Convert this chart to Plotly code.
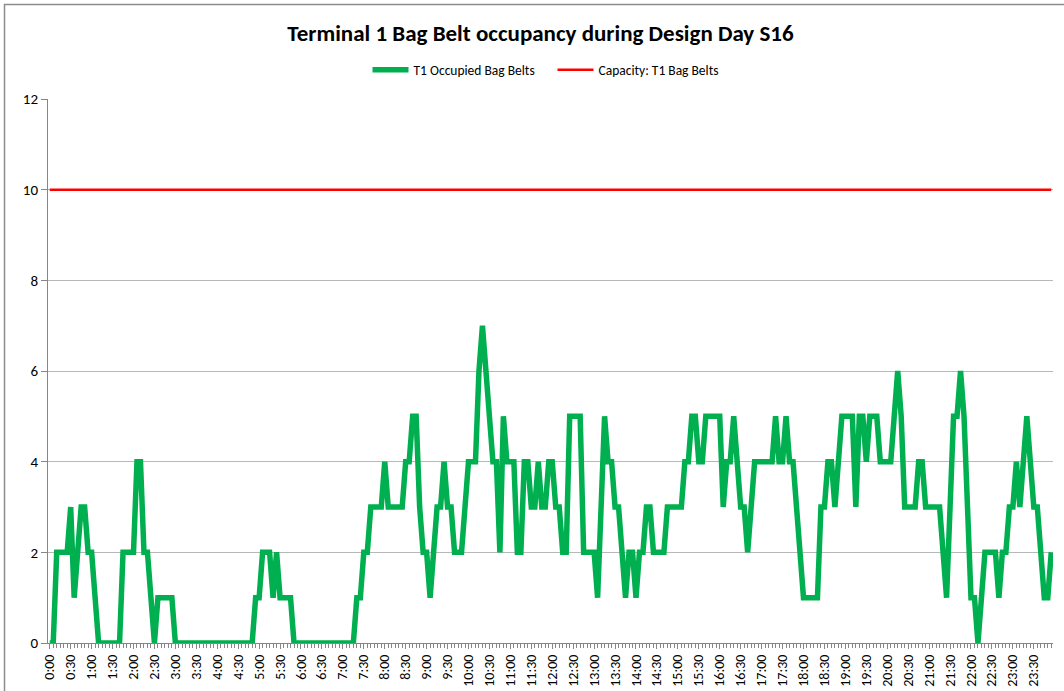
import plotly.graph_objects as go

# 5-minute categories over the design day
time_labels = [f"{h}:{m:02d}" for h in range(24) for m in range(0, 60, 5)]
tick_labels = time_labels[::6]  # every 30 minutes

occupied = [
    0, 0, 2, 2, 2, 2, 3, 1, 2, 3, 3, 2,   # 0:00
    2, 1, 0, 0, 0, 0, 0, 0, 0, 2, 2, 2,   # 1:00
    2, 4, 4, 2, 2, 1, 0, 1, 1, 1, 1, 1,   # 2:00
    0, 0, 0, 0, 0, 0, 0, 0, 0, 0, 0, 0,   # 3:00
    0, 0, 0, 0, 0, 0, 0, 0, 0, 0, 0, 1,   # 4:00
    1, 2, 2, 2, 1, 2, 1, 1, 1, 1, 0, 0,   # 5:00
    0, 0, 0, 0, 0, 0, 0, 0, 0, 0, 0, 0,   # 6:00
    0, 0, 0, 0, 1, 1, 2, 2, 3, 3, 3, 3,   # 7:00
    4, 3, 3, 3, 3, 3, 4, 4, 5, 5, 3, 2,   # 8:00
    2, 1, 2, 3, 3, 4, 3, 3, 2, 2, 2, 3,   # 9:00
    4, 4, 4, 6, 7, 6, 5, 4, 4, 2, 5, 4,   # 10:00
    4, 4, 2, 2, 4, 4, 3, 3, 4, 3, 3, 4,   # 11:00
    4, 3, 3, 2, 2, 5, 5, 5, 5, 2, 2, 2,   # 12:00
    2, 1, 3, 5, 4, 4, 3, 3, 2, 1, 2, 2,   # 13:00
    1, 2, 2, 3, 3, 2, 2, 2, 2, 3, 3, 3,   # 14:00
    3, 3, 4, 4, 5, 5, 4, 4, 5, 5, 5, 5,   # 15:00
    5, 3, 4, 4, 5, 4, 3, 3, 2, 3, 4, 4,   # 16:00
    4, 4, 4, 4, 5, 4, 4, 5, 4, 4, 3, 2,   # 17:00
    1, 1, 1, 1, 1, 3, 3, 4, 4, 3, 4, 5,   # 18:00
    5, 5, 5, 3, 5, 5, 4, 5, 5, 5, 4, 4,   # 19:00
    4, 4, 5, 6, 5, 3, 3, 3, 3, 4, 4, 3,   # 20:00
    3, 3, 3, 3, 2, 1, 3, 5, 5, 6, 5, 3,   # 21:00
    1, 1, 0, 1, 2, 2, 2, 2, 1, 2, 2, 3,   # 22:00
    3, 4, 3, 4, 5, 4, 3, 3, 2, 1, 1, 2,   # 23:00
]
capacity_value = 10
capacity = [capacity_value] * len(time_labels)

x_idx = list(range(len(time_labels)))
tick_vals = x_idx[::6]

font_family = "Carlito, Calibri, 'Liberation Sans', Arial, sans-serif"
axis_gray = "#868686"

fig = go.Figure()
fig.add_trace(go.Scatter(
    x=x_idx, y=occupied, mode="lines", name="T1 Occupied Bag Belts",
    line=dict(color="#00B050", width=5.5),
))
fig.add_trace(go.Scatter(
    x=x_idx, y=capacity, mode="lines", name="Capacity: T1 Bag Belts",
    line=dict(color="#FF0000", width=2.5),
))

fig.update_layout(
    width=1064, height=691,
    margin=dict(l=48, r=11, t=99, b=48, autoexpand=False),
    paper_bgcolor="white", plot_bgcolor="white",
    font=dict(family=font_family, color="#000000", size=12),
    title=dict(
        text="<b>Terminal 1 Bag Belt occupancy during Design Day S16</b>",
        x=0.508, xanchor="center", xref="container",
        y=1 - 33 / 691, yanchor="middle", yref="container",
        font=dict(size=23, color="#000000", family=font_family),
    ),
    legend=dict(
        orientation="h", x=0.502, xanchor="center",
        y=(643 - 70) / 544, yanchor="middle",
        font=dict(size=13.5, color="#000000"),
        bgcolor="rgba(0,0,0,0)",
        itemwidth=36,
        entrywidth=134, entrywidthmode="pixels",
    ),
    xaxis=dict(
        range=[-0.5, len(time_labels) - 0.5],
        tickmode="array", tickvals=tick_vals, ticktext=tick_labels,
        tickangle=-90, tickfont=dict(size=14),
        showgrid=False, zeroline=False, automargin=False,
        showline=True, linecolor=axis_gray, linewidth=1,
        ticks="outside", ticklen=5, tickcolor=axis_gray,
        minor=dict(tickmode="linear", tick0=0, dtick=1, ticks="outside",
                   ticklen=4, tickcolor=axis_gray, showgrid=False),
        fixedrange=True,
    ),
    yaxis=dict(
        range=[0, 12], dtick=2, tick0=0,
        tickfont=dict(size=15),
        showgrid=True, gridcolor="#B8B8B8", gridwidth=1,
        zeroline=False, automargin=False,
        showline=True, linecolor=axis_gray, linewidth=1,
        ticks="outside", ticklen=6, tickcolor=axis_gray,
        fixedrange=True,
    ),
    shapes=[dict(
        type="rect", xref="paper", yref="paper",
        x0=(4.5 - 48) / 1005, x1=1.05,
        y0=-0.3, y1=(643 - 4.5) / 544,
        line=dict(color="#8C8C8C", width=1.5), fillcolor="rgba(0,0,0,0)",
        layer="below",
    )],
)

fig.write_html("out.html", config={"displayModeBar": False},
               post_script="document.body.style.margin='0';")
